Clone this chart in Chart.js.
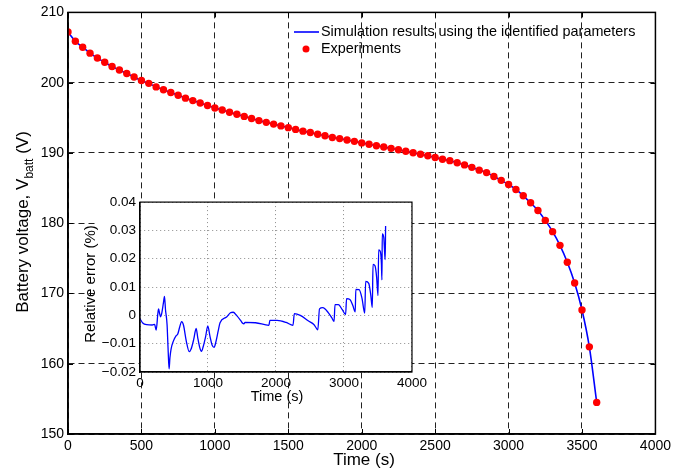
<!DOCTYPE html>
<html>
<head>
<meta charset="utf-8">
<script src="https://cdn.jsdelivr.net/npm/chart.js@4.4.1/dist/chart.umd.min.js"></script>
<style>
  html, body { margin: 0; padding: 0; background: #fff; }
  #wrap { position: relative; width: 675px; height: 470px; }
  #mainChart { position: absolute; left: 0; top: 0; }
  #insetChart { position: absolute; left: 80px; top: 190px; }
</style>
</head>
<body>
<div id="wrap">
  <canvas id="mainChart" width="675" height="470"></canvas>
  <canvas id="insetChart" width="350" height="220"></canvas>
</div>
<script>
const timeSeconds = [
    0, 50, 100, 150, 200, 250, 300, 350, 400, 450,
    500, 550, 600, 650, 700, 750, 800, 850, 900, 950,
    1000, 1050, 1100, 1150, 1200, 1250, 1300, 1350, 1400, 1450,
    1500, 1550, 1600, 1650, 1700, 1750, 1800, 1850, 1900, 1950,
    2000, 2050, 2100, 2150, 2200, 2250, 2300, 2350, 2400, 2450,
    2500, 2550, 2600, 2650, 2700, 2750, 2800, 2850, 2900, 2950,
    3000, 3050, 3100, 3150, 3200, 3250, 3300, 3350, 3400, 3450,
    3500, 3550, 3600
];
const batteryVoltage = [
    207.2, 205.9, 205.05, 204.2, 203.5, 202.9, 202.3, 201.8, 201.3, 200.8,
    200.3, 199.9, 199.4, 199.0, 198.6, 198.2, 197.8, 197.45, 197.1, 196.75,
    196.4, 196.1, 195.8, 195.5, 195.2, 194.9, 194.6, 194.35, 194.1, 193.85,
    193.6, 193.35, 193.1, 192.9, 192.65, 192.45, 192.2, 192.04, 191.85, 191.65,
    191.43, 191.23, 191.03, 190.85, 190.65, 190.45, 190.25, 190.03, 189.82, 189.6,
    189.35, 189.1, 188.9, 188.6, 188.3, 187.95, 187.55, 187.2, 186.65, 186.1,
    185.5, 184.8, 183.9, 182.9, 181.8, 180.4, 178.8, 176.85, 174.45, 171.5,
    167.65, 162.4, 154.5
];

// relative error of the inset
const errorTime = [
    0, 40, 100, 180, 215, 238, 262, 273, 290, 302,
    321, 345, 360, 375, 398, 415, 428, 440, 457, 492,
    530, 554, 585, 612, 640, 680, 724, 750, 790, 826,
    850, 880, 904, 930, 965, 997, 1030, 1060, 1089, 1115,
    1150, 1177, 1273, 1330, 1371, 1420, 1480, 1510, 1527, 1545,
    1700, 1896, 1910, 2017, 2150, 2250, 2270, 2357, 2479, 2560,
    2615, 2640, 2688, 2771, 2820, 2854, 2868, 2917, 2975, 3024,
    3038, 3087, 3130, 3165, 3174, 3223, 3265, 3305, 3319, 3364,
    3395, 3416, 3427, 3456, 3480, 3500, 3510, 3535, 3550, 3558,
    3563, 3585, 3597, 3606, 3612
];
const relativeError = [
    -0.0012, -0.0027, -0.0033, -0.0034, -0.0032, -0.0052, 0.0005, 0.0023, 0.0005, -0.0005,
    0.0009, 0.0045, 0.0067, 0.0020, -0.0032, -0.0130, -0.0189, -0.0150, -0.0119, -0.0090,
    -0.0072, -0.0067, -0.0040, -0.0022, -0.0035, -0.0090, -0.0128, -0.0120, -0.0085, -0.0046,
    -0.0080, -0.0115, -0.0127, -0.0110, -0.0075, -0.0037, -0.0075, -0.0105, -0.0113, -0.0095,
    -0.0055, -0.0026, -0.0006, 0.0009, 0.0011, 0.0000, -0.0018, -0.0028, -0.0030, -0.0025,
    -0.0026, -0.0035, -0.0018, -0.0018, -0.0025, -0.0035, 0.0006, 0.0000, -0.0020, -0.0033,
    -0.0051, 0.0023, 0.0027, 0.0009, -0.0008, -0.0021, 0.0038, 0.0038, 0.0020, 0.0003,
    0.0059, 0.0056, 0.0035, 0.0012, 0.0092, 0.0091, 0.0060, 0.0008, 0.0120, 0.0113,
    0.0070, 0.0028, 0.0180, 0.0175, 0.0135, 0.0070, 0.0231, 0.0225, 0.0185, 0.0125,
    0.0288, 0.0275, 0.0225, 0.0197, 0.0316
];

const mainXTicks = [0, 500, 1000, 1500, 2000, 2500, 3000, 3500, 4000];
const mainYTicks = [150, 160, 170, 180, 190, 200, 210];
const insetXTicks = [0, 1000, 2000, 3000, 4000];
const insetYTicks = [-0.02, -0.01, 0, 0.01, 0.02, 0.03, 0.04];
const legendLabels = ['Simulation results using the identified parameters', 'Experiments'];

const FONT = "'Liberation Sans', Arial, Helvetica, sans-serif";
const BLUE = '#0000ff';
const RED = '#ff0000';

function setTicks(list) {
    return function (scale) {
        scale.ticks = list.map(v => ({ value: v }));
    };
}

const voltagePoints = timeSeconds.map((t, i) => ({ x: t, y: batteryVoltage[i] }));
const errorPoints = errorTime.map((t, i) => ({ x: t, y: relativeError[i] }));

const mainDecor = {
    id: 'mainDecor',
    afterDraw(chart) {
        const ctx = chart.ctx;
        const a = chart.chartArea;
        const xs = chart.scales.x;
        const ys = chart.scales.y;
        ctx.save();

        // inward ticks
        ctx.strokeStyle = '#000';
        ctx.lineWidth = 1;
        ctx.beginPath();
        mainXTicks.forEach(v => {
            const px = Math.round(xs.getPixelForValue(v)) + 0.5;
            ctx.moveTo(px, a.bottom); ctx.lineTo(px, a.bottom - 5);
            ctx.moveTo(px, a.top); ctx.lineTo(px, a.top + 5);
        });
        mainYTicks.forEach(v => {
            const py = Math.round(ys.getPixelForValue(v)) + 0.5;
            ctx.moveTo(a.left, py); ctx.lineTo(a.left + 5, py);
            ctx.moveTo(a.right, py); ctx.lineTo(a.right - 5, py);
        });
        ctx.stroke();

        // box
        ctx.lineWidth = 1.5;
        ctx.strokeRect(a.left, a.top, a.right - a.left, a.bottom - a.top);

        // x title
        ctx.fillStyle = '#000';
        ctx.font = '17px ' + FONT;
        ctx.textAlign = 'center';
        ctx.textBaseline = 'alphabetic';
        ctx.fillText('Time (s)', 364, 465);

        // y title with subscript
        ctx.save();
        ctx.translate(28, 222);
        ctx.rotate(-Math.PI / 2);
        ctx.textAlign = 'left';
        const big = '17px ' + FONT;
        const small = '12px ' + FONT;
        ctx.font = big;
        const p1 = 'Battery voltage, V';
        const p3 = ' (V)';
        const w1 = ctx.measureText(p1).width;
        const w3 = ctx.measureText(p3).width;
        ctx.font = small;
        const w2 = ctx.measureText('batt').width;
        let x0 = -(w1 + w2 + w3) / 2;
        ctx.font = big;
        ctx.fillText(p1, x0, 0);
        ctx.font = small;
        ctx.fillText('batt', x0 + w1, 5);
        ctx.font = big;
        ctx.fillText(p3, x0 + w1 + w2, 0);
        ctx.restore();

        // legend
        ctx.strokeStyle = BLUE;
        ctx.lineWidth = 1.6;
        ctx.beginPath();
        ctx.moveTo(294, 32); ctx.lineTo(319, 32);
        ctx.stroke();
        ctx.fillStyle = RED;
        ctx.beginPath();
        ctx.arc(306, 49, 3.5, 0, Math.PI * 2);
        ctx.fill();
        ctx.fillStyle = '#000';
        ctx.font = '14.4px ' + FONT;
        ctx.textAlign = 'left';
        ctx.textBaseline = 'middle';
        ctx.fillText(legendLabels[0], 321, 32);
        ctx.fillText(legendLabels[1], 321, 49);
        ctx.restore();
    }
};

new Chart(document.getElementById('mainChart'), {
    type: 'line',
    data: {
        datasets: [{
            label: legendLabels[0],
            data: voltagePoints,
            borderColor: BLUE,
            borderWidth: 1.6,
            pointRadius: 0,
            cubicInterpolationMode: 'monotone',
            fill: false,
            order: 2
        }, {
            label: legendLabels[1],
            data: voltagePoints,
            showLine: false,
            pointRadius: 3.7,
            pointBackgroundColor: RED,
            pointBorderColor: RED,
            pointBorderWidth: 0,
            order: 1
        }]
    },
    options: {
        responsive: false,
        devicePixelRatio: 1,
        animation: false,
        events: [],
        layout: { padding: { top: 10, right: 15, left: 0, bottom: 0 } },
        plugins: { legend: { display: false }, tooltip: { enabled: false } },
        scales: {
            x: {
                type: 'linear',
                min: 0,
                max: 4000,
                afterBuildTicks: setTicks(mainXTicks),
                afterFit: s => { s.height = 36; },
                ticks: {
                    color: '#000',
                    font: { family: FONT, size: 14 },
                    padding: 4,
                    maxRotation: 0,
                    autoSkip: false,
                    callback: v => String(v)
                },
                grid: { color: '#222', lineWidth: 1, drawTicks: false },
                border: { display: true, color: '#000', width: 1.5, dash: [6, 4] }
            },
            y: {
                type: 'linear',
                min: 150,
                max: 210,
                afterBuildTicks: setTicks(mainYTicks),
                afterFit: s => { s.width = 68; },
                ticks: {
                    color: '#000',
                    font: { family: FONT, size: 14 },
                    padding: 4,
                    autoSkip: false,
                    callback: v => String(v)
                },
                grid: { color: '#222', lineWidth: 1, drawTicks: false },
                border: { display: true, color: '#000', width: 1.5, dash: [6, 4] }
            }
        }
    },
    plugins: [mainDecor]
});

const insetDecor = {
    id: 'insetDecor',
    beforeDraw(chart) {
        const ctx = chart.ctx;
        const a = chart.chartArea;
        ctx.save();
        ctx.fillStyle = '#fff';
        ctx.fillRect(17, a.top, a.left - 17, 155);
        ctx.fillRect(a.left, a.top, a.right - a.left, a.bottom - a.top);
        ctx.restore();
    },
    afterDraw(chart) {
        const ctx = chart.ctx;
        const a = chart.chartArea;
        ctx.save();
        ctx.strokeStyle = '#000';
        ctx.lineWidth = 1.2;
        ctx.strokeRect(a.left, a.top, a.right - a.left, a.bottom - a.top);

        ctx.fillStyle = '#000';
        ctx.font = '14.5px ' + FONT;
        ctx.textAlign = 'center';
        ctx.textBaseline = 'alphabetic';
        ctx.fillText('Time (s)', 197, 211);

        ctx.save();
        ctx.translate(15, 94);
        ctx.rotate(-Math.PI / 2);
        ctx.font = '15px ' + FONT;
        ctx.fillText('Relative error (%)', 0, 0);
        ctx.restore();
        ctx.restore();
    }
};

new Chart(document.getElementById('insetChart'), {
    type: 'line',
    data: {
        datasets: [{
            data: errorPoints,
            borderColor: BLUE,
            borderWidth: 1.3,
            pointRadius: 0,
            cubicInterpolationMode: 'monotone',
            fill: false
        }]
    },
    options: {
        responsive: false,
        devicePixelRatio: 1,
        animation: false,
        events: [],
        layout: { padding: { top: 10, right: 16, left: 0, bottom: 0 } },
        plugins: { legend: { display: false }, tooltip: { enabled: false } },
        scales: {
            x: {
                type: 'linear',
                min: 0,
                max: 4000,
                afterBuildTicks: setTicks(insetXTicks),
                afterFit: s => { s.height = 38; },
                ticks: {
                    color: '#000',
                    font: { family: FONT, size: 13.5 },
                    padding: 3,
                    maxRotation: 0,
                    autoSkip: false,
                    callback: v => String(v)
                },
                grid: { color: '#8c8c8c', lineWidth: 1, drawTicks: false },
                border: { display: true, color: '#000', width: 1.2, dash: [1, 3] }
            },
            y: {
                type: 'linear',
                min: -0.02,
                max: 0.04,
                afterBuildTicks: setTicks(insetYTicks),
                afterFit: s => { s.width = 60; },
                ticks: {
                    color: '#000',
                    font: { family: FONT, size: 13.5 },
                    padding: 4,
                    autoSkip: false,
                    callback: v => v === 0 ? '0' : (v < 0 ? '\u2212' : '') + Math.abs(v).toFixed(2)
                },
                grid: { color: '#8c8c8c', lineWidth: 1, drawTicks: false },
                border: { display: true, color: '#000', width: 1.2, dash: [1, 3] }
            }
        }
    },
    plugins: [insetDecor]
});
</script>
</body>
</html>
